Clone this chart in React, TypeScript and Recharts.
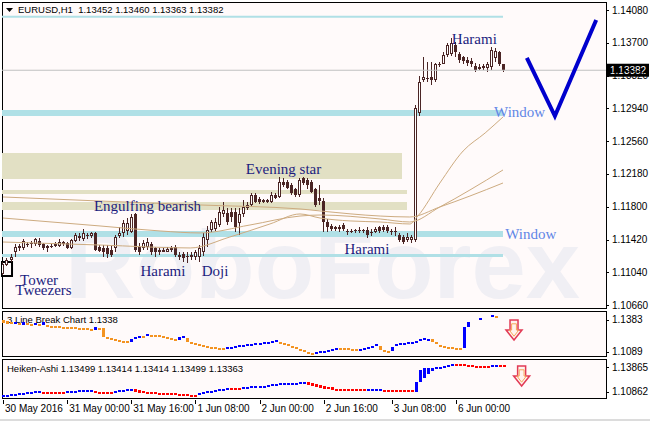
import React from "react";
import {
  ComposedChart,
  Bar,
  Line,
  Scatter,
  XAxis,
  YAxis,
  ReferenceArea,
  ReferenceLine,
} from "recharts";

const SANS = "'Liberation Sans', Arial, sans-serif";
const SERIF = "'Liberation Serif', 'Times New Roman', serif";
const INK = "#4b2525";

// EURUSD H1, one entry per hourly bar (30 May 08:00 .. 6 Jun 12:00)
const opens = [
  1.1102, 1.1113, 1.1118, 1.1128, 1.1132, 1.1132, 1.1136, 1.1137, 1.1137, 1.114,
  1.1137, 1.1135, 1.1135, 1.1135, 1.1135, 1.1137, 1.1138, 1.1132, 1.114, 1.1144,
  1.1143, 1.1146, 1.1146, 1.115, 1.1133, 1.1132, 1.1132, 1.113, 1.1132, 1.1146,
  1.115, 1.1152, 1.1151, 1.1171, 1.1133, 1.1132, 1.1133, 1.1137, 1.1132, 1.113,
  1.1128, 1.1128, 1.113, 1.1133, 1.1124, 1.1125, 1.1123, 1.1122, 1.1122, 1.1122,
  1.1128, 1.1142, 1.1153, 1.1154, 1.1159, 1.1172, 1.1173, 1.1174, 1.1174, 1.1161,
  1.1171, 1.1179, 1.1182, 1.1194, 1.1189, 1.1186, 1.1188, 1.1186, 1.1194, 1.1191,
  1.1209, 1.1209, 1.1205, 1.12, 1.1194, 1.1213, 1.1211, 1.1209, 1.12, 1.119,
  1.1187, 1.1162, 1.1158, 1.1156, 1.1157, 1.1159, 1.1152, 1.1152, 1.1153, 1.1152,
  1.1153, 1.1153, 1.1151, 1.1151, 1.1156, 1.1157, 1.1156, 1.1152, 1.1152, 1.1147,
  1.1145, 1.1142, 1.1142, 1.1142, 1.1289, 1.1327, 1.1328, 1.133, 1.1327, 1.1345,
  1.1346, 1.1356, 1.1357, 1.1368, 1.1357, 1.1354, 1.135, 1.1349, 1.1343, 1.1342,
  1.1341, 1.1341, 1.1342, 1.1352, 1.1359, 1.13452,
];
const highs = [
  1.1116, 1.1121, 1.1125, 1.1137, 1.1137, 1.1143, 1.1139, 1.114, 1.1144, 1.1144,
  1.1138, 1.1136, 1.1137, 1.1139, 1.1143, 1.114, 1.1139, 1.1143, 1.115, 1.115,
  1.1154, 1.115, 1.1151, 1.1151, 1.1136, 1.1136, 1.1136, 1.1136, 1.1147, 1.1156,
  1.1165, 1.1167, 1.1172, 1.1173, 1.1138, 1.1142, 1.1144, 1.1139, 1.1133, 1.1132,
  1.1133, 1.1133, 1.1135, 1.1136, 1.1127, 1.1127, 1.1127, 1.1128, 1.113, 1.1136,
  1.115, 1.1158, 1.1165, 1.1167, 1.118, 1.1186, 1.1179, 1.1179, 1.1179, 1.1179,
  1.1188, 1.1186, 1.1196, 1.1196, 1.1191, 1.1189, 1.1189, 1.1197, 1.1196, 1.1215,
  1.1213, 1.1211, 1.1208, 1.1202, 1.1213, 1.1215, 1.1213, 1.1211, 1.1202, 1.1205,
  1.119, 1.1166, 1.116, 1.1158, 1.1159, 1.1161, 1.1154, 1.1154, 1.1154, 1.1156,
  1.1154, 1.1156, 1.1154, 1.1157, 1.1158, 1.1159, 1.1159, 1.1154, 1.1156, 1.115,
  1.1147, 1.1149, 1.1147, 1.1298, 1.1331, 1.1353, 1.1348, 1.1348, 1.1347, 1.1348,
  1.1359, 1.137, 1.1376, 1.1371, 1.1359, 1.1355, 1.1354, 1.1352, 1.1347, 1.1345,
  1.1346, 1.1348, 1.1365, 1.1364, 1.1361, 1.1346,
];
const lows = [
  1.1101, 1.1111, 1.1116, 1.1122, 1.1129, 1.113, 1.1133, 1.1132, 1.1135, 1.1133,
  1.113, 1.1127, 1.1132, 1.1133, 1.1133, 1.1135, 1.1131, 1.1131, 1.1139, 1.114,
  1.114, 1.1143, 1.1144, 1.1129, 1.1128, 1.1122, 1.1121, 1.1122, 1.1128, 1.1144,
  1.1145, 1.1147, 1.1149, 1.1128, 1.1124, 1.113, 1.113, 1.1124, 1.1122, 1.1124,
  1.1127, 1.1127, 1.1128, 1.1122, 1.1118, 1.1116, 1.1115, 1.1118, 1.1118, 1.1116,
  1.1123, 1.1133, 1.1151, 1.1152, 1.1156, 1.1168, 1.1159, 1.1162, 1.1151, 1.1147,
  1.1168, 1.1176, 1.118, 1.1184, 1.1183, 1.1184, 1.1184, 1.1184, 1.1189, 1.119,
  1.1203, 1.12, 1.1194, 1.1191, 1.1191, 1.1205, 1.12, 1.1196, 1.118, 1.1182,
  1.1151, 1.1151, 1.1152, 1.1152, 1.1151, 1.1152, 1.1147, 1.1149, 1.115, 1.1149,
  1.115, 1.1144, 1.1146, 1.1149, 1.115, 1.1151, 1.115, 1.1147, 1.1146, 1.1139,
  1.1137, 1.1139, 1.1138, 1.1139, 1.1285, 1.1324, 1.1325, 1.1321, 1.1325, 1.1342,
  1.1345, 1.1354, 1.1355, 1.1353, 1.1347, 1.1345, 1.1343, 1.1342, 1.1336, 1.1338,
  1.1339, 1.1336, 1.1339, 1.1348, 1.1343, 1.13363,
];
const closes = [
  1.1114, 1.1118, 1.1122, 1.1133, 1.1135, 1.114, 1.1137, 1.1138, 1.1143, 1.1136,
  1.1132, 1.1132, 1.1133, 1.1137, 1.1139, 1.1139, 1.1132, 1.1142, 1.1147, 1.1146,
  1.115, 1.1147, 1.115, 1.113, 1.1129, 1.1128, 1.1125, 1.1124, 1.1145, 1.115,
  1.1161, 1.1161, 1.1168, 1.113, 1.1128, 1.1138, 1.1139, 1.1127, 1.1127, 1.1128,
  1.113, 1.1131, 1.1132, 1.1124, 1.1122, 1.1121, 1.1122, 1.1124, 1.1127, 1.1132,
  1.1145, 1.1153, 1.1162, 1.1162, 1.1174, 1.1176, 1.1162, 1.1168, 1.1157, 1.1171,
  1.118, 1.1182, 1.1194, 1.1186, 1.1186, 1.1188, 1.1186, 1.1194, 1.119, 1.1209,
  1.1205, 1.1202, 1.1196, 1.1194, 1.1211, 1.1208, 1.1205, 1.1197, 1.1182, 1.1187,
  1.1162, 1.1156, 1.1154, 1.1154, 1.1154, 1.1154, 1.1151, 1.1151, 1.1152, 1.1153,
  1.1152, 1.1147, 1.1149, 1.1154, 1.1152, 1.1153, 1.1152, 1.1151, 1.1151, 1.1142,
  1.1139, 1.1145, 1.1145, 1.1295, 1.1325, 1.133, 1.1329, 1.1327, 1.1345, 1.1346,
  1.1356, 1.1368, 1.137, 1.1359, 1.135, 1.1349, 1.1347, 1.1346, 1.1339, 1.134,
  1.1343, 1.1346, 1.1362, 1.136, 1.1346, 1.13382,
];

const timeTicks = [0, 16, 32, 48, 64, 80, 97, 113];
const timeLabels = [
  "30 May 2016", "31 May 00:00", "31 May 16:00", "1 Jun 08:00",
  "2 Jun 00:00", "2 Jun 16:00", "3 Jun 08:00", "6 Jun 00:00",
];
const priceTicks = [1.1066, 1.1104, 1.1142, 1.118, 1.1218, 1.1256, 1.1294, 1.1332, 1.137, 1.1408];
const lastPrice = 1.13382;

// moving averages: [bar, price]
const maSlow = [
  [0, 1.11913], [24.2, 1.11866], [49.2, 1.1182], [74.1, 1.11774], [79.1, 1.11751],
  [94.1, 1.11692], [101.5, 1.11681], [109, 1.11797], [116.5, 1.11924], [124.75, 1.12075],
];
const maMid = [
  [0, 1.11669], [24.2, 1.11577], [39.2, 1.11519], [49.2, 1.11496], [61.6, 1.11588],
  [74.1, 1.11692], [79.1, 1.11704], [94.1, 1.11658], [101.5, 1.11623], [109, 1.11797],
  [116.5, 1.11994], [124.75, 1.12226],
];
const maFast = [
  [0, 1.11391], [24.2, 1.11356], [46.7, 1.11322], [56.6, 1.11449], [66.6, 1.116],
  [74.1, 1.11716], [79.1, 1.11669], [86.6, 1.11635], [94.1, 1.11623], [101.5, 1.116],
  [103.5, 1.11692], [109, 1.12075], [114.8, 1.12446], [120.3, 1.12655], [124.75, 1.1284],
];
// forecast V drawn to the right of the last bar
const forecast = [[130.7, 1.13524], [137.7, 1.12851], [148, 1.13964]];

// zones: [fromBar, toBar, low, high]
const windowZones = [
  [-0.25, 124.75, 1.1399, 1.14013],
  [-0.25, 124.75, 1.12852, 1.12921],
  [-0.25, 124.75, 1.11449, 1.11519],
  [-0.25, 124.75, 1.11217, 1.11252],
];
const starZones = [
  [-0.25, 99.55, 1.12121, 1.12423],
  [-0.25, 100.8, 1.11948, 1.11994],
  [-0.25, 100.8, 1.11762, 1.11855],
];
const towerBox = [-0.25, 2.25, 1.10997, 1.11159];

const patternText = ["Harami", "Window", "Evening star", "Engulfing bearish", "Window", "Harami", "Harami", "Doji", "Tower", "Tweezers"];
const patternBar = [117.6, 128.9, 70, 36.05, 131.7, 90.8, 39.9, 52.9, 9, 10.1];
const patternPrice = [1.13744, 1.12898, 1.12237, 1.11809, 1.11484, 1.1131, 1.11055, 1.11055, 1.10951, 1.10835];

// 3 line break
const lbHigh = [
  1.1383, 1.1374, 1.1365, 1.1365, 1.1355, 1.1365, 1.1355, 1.1346, 1.1355, 1.1346,
  1.1365, 1.1337, 1.1328, 1.1328, 1.1328, 1.1319, 1.1319, 1.1319, 1.1319, 1.1309,
  1.1309, 1.1309, 1.13, 1.1319, 1.1309, 1.1309, 1.1227, 1.1218, 1.1208, 1.1199,
  1.119, 1.119, 1.1208, 1.1227, 1.1236, 1.1236, 1.1254, 1.1245, 1.1245, 1.1245,
  1.1236, 1.1227, 1.1218, 1.1208, 1.1227, 1.1236, 1.1218, 1.1181, 1.1172, 1.1162,
  1.1153, 1.1144, 1.1135, 1.1135, 1.1126, 1.1126, 1.1135, 1.1135, 1.1144, 1.1153,
  1.1153, 1.1162, 1.1162, 1.1172, 1.1172, 1.1181, 1.1181, 1.119, 1.1199, 1.1181,
  1.1172, 1.1162, 1.1144, 1.1135, 1.1117, 1.1107, 1.1089, 1.108, 1.1089, 1.1098,
  1.1098, 1.1107, 1.1117, 1.1126, 1.1126, 1.1126, 1.1126, 1.1117, 1.1117, 1.1117,
  1.1126, 1.1135, 1.1144, 1.1162, 1.1144, 1.1107, 1.1098, 1.1135, 1.1162, 1.1172,
  1.1172, 1.1181, 1.1181, 1.119, 1.1208, 1.1218, 1.1208, 1.1208, 1.1181, 1.1153,
  1.1144, 1.1135, 1.1135, 1.1126, 1.1126, 1.1319, 1.1365, null, null, 1.1401,
  null, null, 1.1429, 1.142, null, null,
];
const lbLow = [
  1.1355, 1.1346, 1.1346, 1.1346, 1.1337, 1.1337, 1.1337, 1.1337, 1.1337, 1.1328,
  1.1337, 1.1328, 1.1319, 1.1319, 1.1319, 1.1309, 1.1309, 1.1309, 1.1309, 1.13,
  1.13, 1.13, 1.1291, 1.1291, 1.1291, 1.1227, 1.1218, 1.1208, 1.1199, 1.119,
  1.1181, 1.1172, 1.1181, 1.1208, 1.1218, 1.1227, 1.1236, 1.1236, 1.1236, 1.1227,
  1.1227, 1.1218, 1.1208, 1.1199, 1.1199, 1.1218, 1.1181, 1.1172, 1.1162, 1.1153,
  1.1144, 1.1135, 1.1126, 1.1126, 1.1117, 1.1117, 1.1126, 1.1126, 1.1135, 1.1135,
  1.1144, 1.1153, 1.1153, 1.1162, 1.1162, 1.1162, 1.1172, 1.1181, 1.1181, 1.1172,
  1.1162, 1.1144, 1.1135, 1.1117, 1.1107, 1.1089, 1.108, 1.1071, 1.108, 1.108,
  1.1089, 1.1098, 1.1107, 1.1107, 1.1117, 1.1117, 1.1117, 1.1107, 1.1107, 1.1107,
  1.1117, 1.1117, 1.1135, 1.1144, 1.1107, 1.1098, 1.1089, 1.1098, 1.1144, 1.1162,
  1.1162, 1.1172, 1.1172, 1.1181, 1.1199, 1.1199, 1.1199, 1.1181, 1.1162, 1.1144,
  1.1135, 1.1126, 1.1126, 1.1117, 1.1117, 1.1126, 1.1319, null, null, 1.1383,
  null, null, 1.1411, 1.1401, null, null,
];
const lbDir =
  "dddududdud" + "uddddddddd" + "dddudddddd" + "dduuududdd" + "dddduudddd" +
  "dddddduuuu" + "uuuuuuuuud" + "dddddddduu" + "uuuudddddu" + "uuuuddduuu" +
  "uuuuuuuddd" + "ddddduuuuu" + "uuuddd";
const lbTicks = [1.1089, 1.1383];

// heiken ashi
const haHigh = [
  1.105, 1.105, 1.1062, 1.1062, 1.1074, 1.1074, 1.1086, 1.1086, 1.1098, 1.1098,
  1.1086, 1.1086, 1.1086, 1.1086, 1.1086, 1.1086, 1.1098, 1.1098, 1.1098, 1.111,
  1.111, 1.111, 1.111, 1.1098, 1.1086, 1.1086, 1.1086, 1.1086, 1.1098, 1.111,
  1.111, 1.1122, 1.1122, 1.1122, 1.111, 1.1098, 1.1086, 1.1086, 1.1086, 1.1074,
  1.1074, 1.1074, 1.1074, 1.1074, 1.1062, 1.1062, 1.1062, 1.105, 1.105, 1.1074,
  1.1086, 1.1098, 1.1098, 1.111, 1.1122, 1.1122, 1.1134, 1.1134, 1.1134, 1.1134,
  1.1146, 1.1146, 1.1158, 1.1158, 1.1158, 1.1158, 1.117, 1.1182, 1.1182, 1.1194,
  1.1194, 1.1194, 1.1194, 1.1194, 1.1206, 1.1206, 1.1206, 1.1194, 1.1182, 1.117,
  1.1158, 1.1146, 1.1146, 1.1122, 1.1122, 1.1122, 1.1122, 1.1122, 1.1122, 1.1122,
  1.1122, 1.1122, 1.1122, 1.1122, 1.1122, 1.111, 1.111, 1.111, 1.111, 1.111,
  1.111, 1.111, 1.111, 1.1206, 1.1351, 1.1375, 1.1375, 1.1375, 1.1387, 1.1387,
  1.1399, 1.1411, 1.1423, 1.1423, 1.1423, 1.1423, 1.1411, 1.1411, 1.1399, 1.1399,
  1.1399, 1.1399, 1.1411, 1.1411, 1.1411, 1.1411,
];
const haLow = [
  1.1026, 1.1038, 1.105, 1.105, 1.1062, 1.1062, 1.1074, 1.1074, 1.1086, 1.1086,
  1.1074, 1.1062, 1.1074, 1.1074, 1.1074, 1.1074, 1.1086, 1.1086, 1.1086, 1.1098,
  1.1098, 1.1098, 1.1098, 1.1074, 1.1062, 1.1074, 1.1074, 1.1074, 1.1086, 1.1098,
  1.1098, 1.111, 1.111, 1.1086, 1.1074, 1.1086, 1.1074, 1.1074, 1.1074, 1.1062,
  1.1062, 1.1062, 1.1062, 1.1062, 1.105, 1.1038, 1.105, 1.1038, 1.1038, 1.105,
  1.1074, 1.1086, 1.1086, 1.1098, 1.1098, 1.111, 1.1122, 1.111, 1.111, 1.1122,
  1.1134, 1.1134, 1.1146, 1.1146, 1.1146, 1.1146, 1.1158, 1.117, 1.117, 1.1182,
  1.1182, 1.1182, 1.1182, 1.1182, 1.1194, 1.1194, 1.117, 1.1158, 1.1146, 1.1134,
  1.1122, 1.1122, 1.111, 1.111, 1.111, 1.111, 1.111, 1.111, 1.111, 1.111,
  1.111, 1.111, 1.111, 1.111, 1.111, 1.1086, 1.1086, 1.1086, 1.1086, 1.1086,
  1.1086, 1.1086, 1.1086, 1.1086, 1.1206, 1.1254, 1.1303, 1.1339, 1.1363, 1.1375,
  1.1387, 1.1399, 1.1411, 1.1411, 1.1411, 1.1399, 1.1399, 1.1399, 1.1387, 1.1387,
  1.1387, 1.1387, 1.1399, 1.1399, 1.1399, 1.1399,
];
const haDir =
  "uuuuuuuuuu" + "dddddduuuu" + "uuuddddduu" + "uuuddddddd" + "dddddddddu" +
  "uuuuuuuddd" + "uuuuuuuuuu" + "uuuuuudddd" + "dddddddddd" + "duuuuddddd" +
  "ddduuuuuuu" + "uuuddddddd" + "dduudd";
const haTicks = [1.10862, 1.13865];

// signal arrows in the indicator windows: [bar, value]
const lbSignal = [127.5, 1.1291];
const haSignal = [129.4, 1.12784];

const X_DOMAIN: [number, number] = [-0.25, 150.45];
const MAIN_DOMAIN: [number, number] = [1.10626, 1.14173];
const LB_DOMAIN: [number, number] = [1.10522, 1.14565];
const HA_DOMAIN: [number, number] = [1.10141, 1.14706];

const candles = opens.map((o, i) => ({
  i,
  open: o,
  high: highs[i],
  low: lows[i],
  close: closes[i],
  range: [lows[i], highs[i]],
}));

const bricks = (hi: (number | null)[], lo: (number | null)[], dir: string) =>
  hi
    .map((h, i) => (h == null ? null : { i, range: [lo[i], h], up: dir[i] === "u" }))
    .filter(Boolean) as { i: number; range: number[]; up: boolean }[];

const lbData = bricks(lbHigh, lbLow, lbDir);
const haData = bricks(haHigh, haLow, haDir);

const pts = (arr: number[][]) => arr.map(([i, v]) => ({ i, v }));
const patterns = patternText.map((text, k) => ({ i: patternBar[k], v: patternPrice[k], text }));

function Candle(props: any) {
  const { x, y, width, height, payload } = props;
  if (y == null || isNaN(y)) return null;
  const c = Math.floor(x + width / 2);
  const k = height / (payload.high - payload.low);
  const yOf = (v: number) => y + (payload.high - v) * k;
  const top = Math.round(yOf(Math.max(payload.open, payload.close)));
  const bot = Math.round(yOf(Math.min(payload.open, payload.close)));
  const h = Math.max(bot - top, 1);
  const up = payload.close >= payload.open;
  return (
    <g>
      <line x1={c + 0.5} x2={c + 0.5} y1={Math.round(y)} y2={Math.round(y + height)} stroke={INK} />
      {up && h >= 3 ? (
        <rect x={c - 0.5} y={top + 0.5} width={2} height={h - 1} fill="#fff" stroke={INK} />
      ) : (
        <rect x={c - 1} y={top} width={3} height={h} fill={INK} />
      )}
    </g>
  );
}

const brickShape = (upColor: string, downColor: string) => (props: any) => {
  const { x, y, width, height, payload } = props;
  if (y == null || isNaN(y)) return null;
  const c = Math.floor(x + width / 2);
  return (
    <rect
      x={c - 1}
      y={Math.round(y)}
      width={3}
      height={Math.max(Math.round(height), 2)}
      fill={payload.up ? upColor : downColor}
    />
  );
};

function PatternLabel(props: any) {
  const { cx, cy, payload } = props;
  const win = payload.text === "Window";
  return (
    <text
      x={cx}
      y={cy}
      textAnchor="middle"
      dominantBaseline="central"
      fontFamily={SERIF}
      fontSize={15}
      fill={win ? "#5f86e6" : "#1c1c7e"}
    >
      {payload.text}
    </text>
  );
}

function DownArrow(props: any) {
  const { cx, cy } = props;
  const shape = [[-4, -10], [4, -10], [4, 0], [8, 0], [0, 10], [-8, 0], [-4, 0]];
  const outer = shape.map(([dx, dy]) => `${cx + dx},${cy + dy}`).join(" ");
  const inner = shape.map(([dx, dy]) => `${cx + dx * 0.6},${cy + dy * 0.62}`).join(" ");
  return (
    <g>
      <polygon points={outer} fill="#fff3ee" stroke="#e23a55" strokeWidth={1.5} />
      <polygon points={inner} fill="none" stroke="#f6a75a" strokeWidth={1} />
    </g>
  );
}

const PriceTick = (digits: number) => (props: any) => {
  const { x, y, payload } = props;
  return (
    <g>
      <line x1={x} x2={x + 3} y1={Math.round(y) + 0.5} y2={Math.round(y) + 0.5} stroke="#000" />
      <text x={x + 6} y={y} dy="0.35em" fontSize={10} fontFamily={SANS} fill="#000">
        {Number(payload.value).toFixed(digits)}
      </text>
    </g>
  );
};

function TimeTick(props: any) {
  const { x, y, payload } = props;
  const k = timeTicks.indexOf(payload.value);
  return (
    <g>
      <line x1={Math.round(x) + 0.5} x2={Math.round(x) + 0.5} y1={y + 2} y2={y + 6} stroke="#000" />
      <text x={x + 2} y={y + 14} fontSize={10} fontFamily={SANS} fill="#000">
        {timeLabels[k]}
      </text>
    </g>
  );
}

function PriceTag(props: any) {
  const { viewBox } = props;
  if (!viewBox) return null;
  const left = viewBox.x + viewBox.width + 1;
  return (
    <g>
      <rect x={left} y={viewBox.y - 6.5} width={42} height={13} fill="#000" />
      <text x={left + 3} y={viewBox.y} dy="0.35em" fontSize={10} fontFamily={SANS} fill="#fff">
        {lastPrice.toFixed(5)}
      </text>
    </g>
  );
}

const box = (top: number, height: number): React.CSSProperties => ({
  position: "absolute",
  left: 2,
  top,
  width: 605,
  height,
  boxSizing: "border-box",
  border: "1px solid #000",
  background: "#fffafa",
});

const abs = (top: number): React.CSSProperties => ({ position: "absolute", left: 0, top });

export default function App() {
  return (
    <div
      style={{
        position: "fixed",
        left: 0,
        top: 0,
        width: 650,
        height: 421,
        background: "#fff",
        overflow: "hidden",
        fontFamily: SANS,
      }}
    >
      <div style={box(2, 307)} />
      <div style={box(311, 46)} />
      <div style={box(359, 40)} />
      <div style={{ position: "absolute", left: 0, top: 419, width: 650, height: 2, background: "#dcdcdc" }} />

      <svg style={{ position: "absolute", left: 0, top: 0 }} width={606} height={308}>
        <text
          x={65}
          y={298}
          fontSize={96}
          fontWeight="bold"
          fontFamily={SANS}
          fill="#f0eff4"
          textLength={515}
          lengthAdjust="spacingAndGlyphs"
        >
          RoboForex
        </text>
      </svg>

      <svg style={{ position: "absolute", left: 6, top: 8 }} width={8} height={6}>
        <polygon points="0,0 7,0 3.5,4" fill="#000" />
      </svg>
      <div style={{ position: "absolute", left: 18, top: 4, fontSize: 9.5, lineHeight: "12px", color: "#000", whiteSpace: "pre" }}>
        {"EURUSD,H1  1.13452 1.13460 1.13363 1.13382"}
      </div>
      <div style={{ position: "absolute", left: 7, top: 314, fontSize: 9.5, lineHeight: "12px", color: "#000", whiteSpace: "pre" }}>
        {"3 Line Break Chart 1.1338"}
      </div>
      <div style={{ position: "absolute", left: 7, top: 363, fontSize: 9.5, lineHeight: "12px", color: "#000", whiteSpace: "pre" }}>
        {"Heiken-Ashi 1.13499 1.13414 1.13414 1.13499 1.13363"}
      </div>

      <div style={abs(0)}>
        <ComposedChart width={650} height={310} data={candles} margin={{ top: 2, right: 0, bottom: 2, left: 2 }}>
          <XAxis type="number" dataKey="i" domain={X_DOMAIN} allowDataOverflow hide />
          <YAxis
            orientation="right"
            width={44}
            domain={MAIN_DOMAIN}
            allowDataOverflow
            ticks={priceTicks}
            interval={0}
            tickSize={0}
            tickMargin={0}
            tickLine={false}
            axisLine={false}
            tick={PriceTick(5)}
          />
          {starZones.map(([x1, x2, y1, y2], k) => (
            <ReferenceArea key={"s" + k} x1={x1} x2={x2} y1={y1} y2={y2} fill="#e2e0c4" fillOpacity={1} stroke="none" />
          ))}
          {windowZones.map(([x1, x2, y1, y2], k) => (
            <ReferenceArea key={"w" + k} x1={x1} x2={x2} y1={y1} y2={y2} fill="#b0e0e6" fillOpacity={1} stroke="none" />
          ))}
          <ReferenceArea
            x1={towerBox[0]}
            x2={towerBox[1]}
            y1={towerBox[2]}
            y2={towerBox[3]}
            fill="none"
            fillOpacity={0}
            stroke="#000"
            strokeWidth={2}
          />
          <ReferenceLine y={lastPrice} stroke="#c0c0c0" label={<PriceTag />} />
          <Line data={pts(maSlow)} dataKey="v" type="monotone" stroke="#cdab80" strokeWidth={1} dot={false} isAnimationActive={false} />
          <Line data={pts(maMid)} dataKey="v" type="monotone" stroke="#cdab80" strokeWidth={1} dot={false} isAnimationActive={false} />
          <Line data={pts(maFast)} dataKey="v" type="monotone" stroke="#cdab80" strokeWidth={1} dot={false} isAnimationActive={false} />
          <Bar dataKey="range" barSize={3} shape={Candle} isAnimationActive={false} />
          <Line
            data={pts(forecast)}
            dataKey="v"
            type="linear"
            stroke="#0000cd"
            strokeWidth={4}
            strokeLinejoin="miter"
            dot={false}
            isAnimationActive={false}
          />
          <Scatter data={patterns} dataKey="v" shape={PatternLabel} isAnimationActive={false} />
        </ComposedChart>
      </div>

      <div style={abs(312)}>
        <ComposedChart width={650} height={44} data={lbData} margin={{ top: 0, right: 0, bottom: 0, left: 2 }}>
          <XAxis type="number" dataKey="i" domain={X_DOMAIN} allowDataOverflow hide />
          <YAxis
            orientation="right"
            width={44}
            domain={LB_DOMAIN}
            allowDataOverflow
            ticks={lbTicks}
            interval={0}
            tickSize={0}
            tickMargin={0}
            tickLine={false}
            axisLine={false}
            tick={PriceTick(4)}
          />
          <Bar dataKey="range" barSize={3} shape={brickShape("#0000ff", "#f39321")} isAnimationActive={false} />
          <Scatter data={[{ i: lbSignal[0], v: lbSignal[1] }]} dataKey="v" shape={DownArrow} isAnimationActive={false} />
        </ComposedChart>
      </div>

      <div style={abs(360)}>
        <ComposedChart width={650} height={61} data={haData} margin={{ top: 0, right: 0, bottom: 0, left: 2 }}>
          <XAxis
            type="number"
            dataKey="i"
            domain={X_DOMAIN}
            allowDataOverflow
            ticks={timeTicks}
            interval={0}
            height={23}
            tickSize={0}
            tickMargin={0}
            tickLine={false}
            axisLine={false}
            tick={TimeTick}
          />
          <YAxis
            orientation="right"
            width={44}
            domain={HA_DOMAIN}
            allowDataOverflow
            ticks={haTicks}
            interval={0}
            tickSize={0}
            tickMargin={0}
            tickLine={false}
            axisLine={false}
            tick={PriceTick(5)}
          />
          <Bar dataKey="range" barSize={3} shape={brickShape("#0000ff", "#ff0000")} isAnimationActive={false} />
          <Scatter data={[{ i: haSignal[0], v: haSignal[1] }]} dataKey="v" shape={DownArrow} isAnimationActive={false} />
        </ComposedChart>
      </div>
    </div>
  );
}
